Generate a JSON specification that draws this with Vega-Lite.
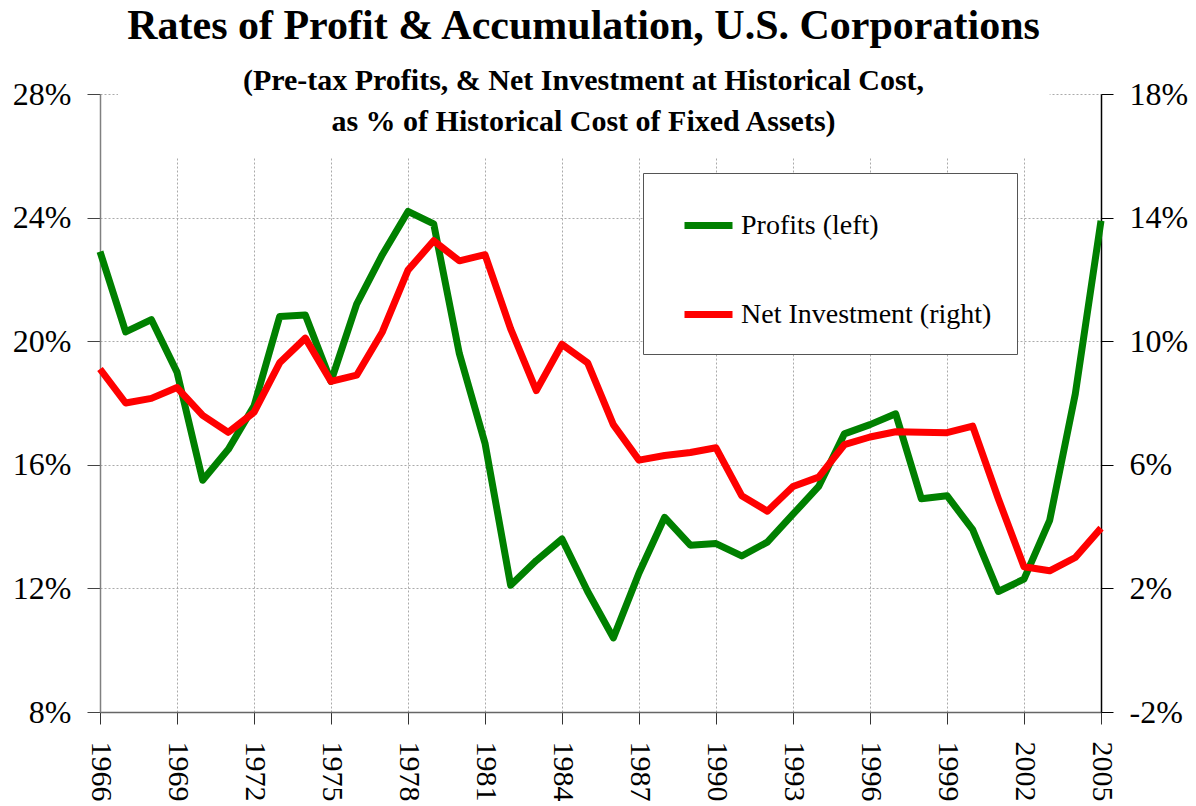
{
  "$schema": "https://vega.github.io/schema/vega-lite/v6.json",
  "width": 1001,
  "height": 618,
  "autosize": {"type": "none"},
  "padding": {"top": 94, "left": 100, "right": 95, "bottom": 94},
  "background": "white",
  "config": {"font": "Liberation Serif", "view": {"stroke": null}},
  "title": {
    "text": "Rates of Profit & Accumulation, U.S. Corporations",
    "subtitle": ["(Pre-tax Profits, & Net Investment at Historical Cost,", "as % of Historical Cost of Fixed Assets)"],
    "font": "Liberation Serif",
    "fontSize": 42,
    "fontWeight": "bold",
    "color": "black",
    "subtitleFont": "Liberation Serif",
    "subtitleFontSize": 30,
    "subtitleFontWeight": "bold",
    "subtitleColor": "black",
    "subtitleLineHeight": 41,
    "subtitlePadding": 18,
    "anchor": "middle",
    "frame": "group",
    "offset": -60,
    "dx": -17
  },
  "datasets": {
    "main": [
      {"year": 1966, "series": "Profits (left)", "value": 22.9},
      {"year": 1967, "series": "Profits (left)", "value": 20.3},
      {"year": 1968, "series": "Profits (left)", "value": 20.7},
      {"year": 1969, "series": "Profits (left)", "value": 19.0},
      {"year": 1970, "series": "Profits (left)", "value": 15.5},
      {"year": 1971, "series": "Profits (left)", "value": 16.5},
      {"year": 1972, "series": "Profits (left)", "value": 17.9},
      {"year": 1973, "series": "Profits (left)", "value": 20.8},
      {"year": 1974, "series": "Profits (left)", "value": 20.85},
      {"year": 1975, "series": "Profits (left)", "value": 18.7},
      {"year": 1976, "series": "Profits (left)", "value": 21.2},
      {"year": 1977, "series": "Profits (left)", "value": 22.8},
      {"year": 1978, "series": "Profits (left)", "value": 24.2},
      {"year": 1979, "series": "Profits (left)", "value": 23.8},
      {"year": 1980, "series": "Profits (left)", "value": 19.6},
      {"year": 1981, "series": "Profits (left)", "value": 16.7},
      {"year": 1982, "series": "Profits (left)", "value": 12.1},
      {"year": 1983, "series": "Profits (left)", "value": 12.9},
      {"year": 1984, "series": "Profits (left)", "value": 13.6},
      {"year": 1985, "series": "Profits (left)", "value": 11.9},
      {"year": 1986, "series": "Profits (left)", "value": 10.4},
      {"year": 1987, "series": "Profits (left)", "value": 12.5},
      {"year": 1988, "series": "Profits (left)", "value": 14.3},
      {"year": 1989, "series": "Profits (left)", "value": 13.4},
      {"year": 1990, "series": "Profits (left)", "value": 13.45},
      {"year": 1991, "series": "Profits (left)", "value": 13.05},
      {"year": 1992, "series": "Profits (left)", "value": 13.5},
      {"year": 1993, "series": "Profits (left)", "value": 14.4},
      {"year": 1994, "series": "Profits (left)", "value": 15.3},
      {"year": 1995, "series": "Profits (left)", "value": 17.0},
      {"year": 1996, "series": "Profits (left)", "value": 17.3},
      {"year": 1997, "series": "Profits (left)", "value": 17.65},
      {"year": 1998, "series": "Profits (left)", "value": 14.9},
      {"year": 1999, "series": "Profits (left)", "value": 15.0},
      {"year": 2000, "series": "Profits (left)", "value": 13.9},
      {"year": 2001, "series": "Profits (left)", "value": 11.9},
      {"year": 2002, "series": "Profits (left)", "value": 12.3},
      {"year": 2003, "series": "Profits (left)", "value": 14.2},
      {"year": 2004, "series": "Profits (left)", "value": 18.3},
      {"year": 2005, "series": "Profits (left)", "value": 23.9},
      {"year": 1966, "series": "Net Investment (right)", "value": 9.1},
      {"year": 1967, "series": "Net Investment (right)", "value": 8.0},
      {"year": 1968, "series": "Net Investment (right)", "value": 8.15},
      {"year": 1969, "series": "Net Investment (right)", "value": 8.5},
      {"year": 1970, "series": "Net Investment (right)", "value": 7.6},
      {"year": 1971, "series": "Net Investment (right)", "value": 7.05},
      {"year": 1972, "series": "Net Investment (right)", "value": 7.7},
      {"year": 1973, "series": "Net Investment (right)", "value": 9.3},
      {"year": 1974, "series": "Net Investment (right)", "value": 10.1},
      {"year": 1975, "series": "Net Investment (right)", "value": 8.7},
      {"year": 1976, "series": "Net Investment (right)", "value": 8.9},
      {"year": 1977, "series": "Net Investment (right)", "value": 10.3},
      {"year": 1978, "series": "Net Investment (right)", "value": 12.3},
      {"year": 1979, "series": "Net Investment (right)", "value": 13.25},
      {"year": 1980, "series": "Net Investment (right)", "value": 12.6},
      {"year": 1981, "series": "Net Investment (right)", "value": 12.8},
      {"year": 1982, "series": "Net Investment (right)", "value": 10.4},
      {"year": 1983, "series": "Net Investment (right)", "value": 8.4},
      {"year": 1984, "series": "Net Investment (right)", "value": 9.9},
      {"year": 1985, "series": "Net Investment (right)", "value": 9.3},
      {"year": 1986, "series": "Net Investment (right)", "value": 7.3},
      {"year": 1987, "series": "Net Investment (right)", "value": 6.15},
      {"year": 1988, "series": "Net Investment (right)", "value": 6.3},
      {"year": 1989, "series": "Net Investment (right)", "value": 6.4},
      {"year": 1990, "series": "Net Investment (right)", "value": 6.55},
      {"year": 1991, "series": "Net Investment (right)", "value": 5.0},
      {"year": 1992, "series": "Net Investment (right)", "value": 4.5},
      {"year": 1993, "series": "Net Investment (right)", "value": 5.3},
      {"year": 1994, "series": "Net Investment (right)", "value": 5.6},
      {"year": 1995, "series": "Net Investment (right)", "value": 6.65},
      {"year": 1996, "series": "Net Investment (right)", "value": 6.9},
      {"year": 1997, "series": "Net Investment (right)", "value": 7.07},
      {"year": 1998, "series": "Net Investment (right)", "value": 7.05},
      {"year": 1999, "series": "Net Investment (right)", "value": 7.04},
      {"year": 2000, "series": "Net Investment (right)", "value": 7.25},
      {"year": 2001, "series": "Net Investment (right)", "value": 4.9},
      {"year": 2002, "series": "Net Investment (right)", "value": 2.7},
      {"year": 2003, "series": "Net Investment (right)", "value": 2.57},
      {"year": 2004, "series": "Net Investment (right)", "value": 3.0},
      {"year": 2005, "series": "Net Investment (right)", "value": 3.95}
    ]
  },
  "data": {"name": "main"},
  "layer": [
    {
      "layer": [
        {
          "data": {"values": [{}]},
          "mark": {"type": "rect", "fill": "white", "stroke": null},
          "encoding": {
            "x": {"datum": 1966.7, "type": "quantitative"},
            "x2": {"datum": 2003.0},
            "y": {"datum": 25.96, "type": "quantitative"},
            "y2": {"datum": 28}
          }
        },
        {
          "transform": [{"filter": "datum.series === 'Profits (left)'"}],
          "mark": {"type": "line", "strokeWidth": 7, "strokeJoin": "round"},
          "encoding": {
            "x": {"field": "year", "type": "quantitative"},
            "y": {"field": "value", "type": "quantitative"},
            "color": {"field": "series", "type": "nominal"}
          }
        }
      ],
      "encoding": {
        "x": {
          "type": "quantitative",
          "scale": {"domain": [1966, 2005], "nice": false, "zero": false},
          "axis": {
            "title": null,
            "values": [1966, 1969, 1972, 1975, 1978, 1981, 1984, 1987, 1990, 1993, 1996, 1999, 2002, 2005],
            "format": "d",
            "labelAngle": 90,
            "labelAlign": "left",
            "labelBaseline": "middle",
            "labelFontSize": 30,
            "labelFont": "Liberation Serif",
            "labelColor": "black",
            "labelPadding": 17,
            "labelFlush": false,
            "labelOverlap": false,
            "tickSize": 12,
            "tickColor": "#333",
            "domainColor": "#666",
            "domainWidth": 1.5,
            "grid": true,
            "gridColor": "#aaa",
            "gridDash": [2, 2],
            "gridWidth": 1
          }
        },
        "y": {
          "type": "quantitative",
          "scale": {"domain": [8, 28], "nice": false, "zero": false},
          "axis": {
            "title": null,
            "orient": "left",
            "values": [8, 12, 16, 20, 24, 28],
            "labelExpr": "datum.value + '%'",
            "labelFontSize": 32,
            "labelFont": "Liberation Serif",
            "labelColor": "black",
            "labelPadding": 16,
            "tickSize": 13,
            "tickColor": "#444",
            "domainColor": "#808080",
            "domainWidth": 1.5,
            "grid": true,
            "gridColor": "#aaa",
            "gridDash": [2, 2],
            "gridWidth": 1
          }
        }
      }
    },
    {
      "transform": [{"filter": "datum.series === 'Net Investment (right)'"}],
      "mark": {"type": "line", "strokeWidth": 7, "strokeJoin": "round"},
      "encoding": {
        "x": {"field": "year", "type": "quantitative"},
        "y": {
          "field": "value",
          "type": "quantitative",
          "scale": {"domain": [-2, 18], "nice": false, "zero": false},
          "axis": {
            "title": null,
            "orient": "right",
            "values": [-2, 2, 6, 10, 14, 18],
            "labelExpr": "datum.value + '%'",
            "labelFontSize": 32,
            "labelFont": "Liberation Serif",
            "labelColor": "black",
            "labelPadding": 16,
            "tickSize": 12,
            "tickColor": "black",
            "domainColor": "black",
            "domainWidth": 1.5,
            "grid": false
          }
        },
        "color": {
          "field": "series",
          "type": "nominal",
          "scale": {"domain": ["Profits (left)", "Net Investment (right)"], "range": ["#008000", "#ff0000"]},
          "legend": {
            "title": null,
            "orient": "none",
            "legendX": 543,
            "legendY": 79,
            "fillColor": "white",
            "strokeColor": "#555",
            "padding": 25,
            "symbolType": "stroke",
            "symbolSize": 2304,
            "symbolStrokeWidth": 7,
            "symbolOffset": 13,
            "labelFont": "Liberation Serif",
            "labelFontSize": 28,
            "labelColor": "black",
            "labelOffset": 5,
            "labelLimit": 400,
            "rowPadding": 47
          }
        }
      }
    }
  ],
  "resolve": {"scale": {"y": "independent"}}
}
